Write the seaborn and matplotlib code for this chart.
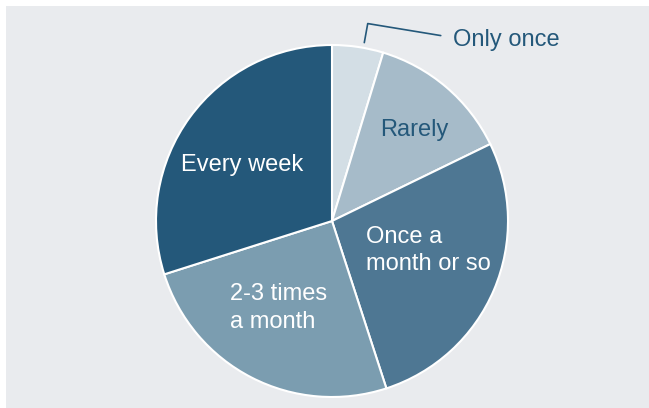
import numpy as np
import matplotlib
matplotlib.use("Agg")
import matplotlib.pyplot as plt
import seaborn as sns

categories = ["Only once", "Rarely", "Once a\nmonth or so", "2-3 times\na month", "Every week"]
values = [4.7, 13.1, 27.2, 25.1, 29.9]
colors = ["#d3dee5", "#a6bbc9", "#4e7793", "#7b9db0", "#24587a"]
label_colors = ["#24587a", "#24587a", "white", "white", "white"]
# label placement: (fraction of radius, angle offset from wedge middle in degrees)
label_place = [None, (0.70, -1.6), (0.575, 6.2), (0.58, -4.5), (0.60, 4.2)]

sns.set_theme(style="white")
plt.rcParams['font.family'] = ['Liberation Sans', 'DejaVu Sans']

W, H = 649, 408
fig = plt.figure(figsize=(W / 100, H / 100), dpi=100, facecolor="white")
ax = fig.add_axes([6 / W, 0, (W - 6) / W, (H - 6) / H])
cx, cy = 332 - 6, H - 221
R = 176
ax.add_patch(plt.Rectangle((-cx, -cy), W - 6, H - 6, color="#e9ebee", zorder=0))

wedges, _ = ax.pie(values, colors=colors, startangle=90, counterclock=False,
                   radius=R, wedgeprops=dict(edgecolor="white", linewidth=1.5),
                   frame=True)
ax.set_xlim(-cx, (W - 6) - cx)
ax.set_ylim(-cy, (H - 6) - cy)
ax.set_aspect("equal")
ax.set_axis_off()

fs = 17
for w, lab, col, place in zip(wedges, categories, label_colors, label_place):
    mid = np.deg2rad((w.theta1 + w.theta2) / 2)
    if place is None:
        a = mid - np.deg2rad(1.8)
        p1 = (1.03 * R * np.cos(a), 1.03 * R * np.sin(a))
        p2 = (1.14 * R * np.cos(a), 1.14 * R * np.sin(a))
        p3 = (p2[0] + 73, p2[1] - 12)
        ax.plot([p1[0], p2[0], p3[0]], [p1[1], p2[1], p3[1]], color="#24587a", lw=1.2)
        ax.text(p3[0] + 12, p3[1] - 4, lab, color=col, fontsize=fs, ha="left", va="center")
    else:
        rf, off = place
        a = mid + np.deg2rad(off)
        x, y = rf * R * np.cos(a), rf * R * np.sin(a)
        ax.text(x, y, lab, color=col, fontsize=fs, ha="center", va="center",
                multialignment="left", linespacing=1.32)

fig.savefig("out.png", dpi=100, facecolor="white")
